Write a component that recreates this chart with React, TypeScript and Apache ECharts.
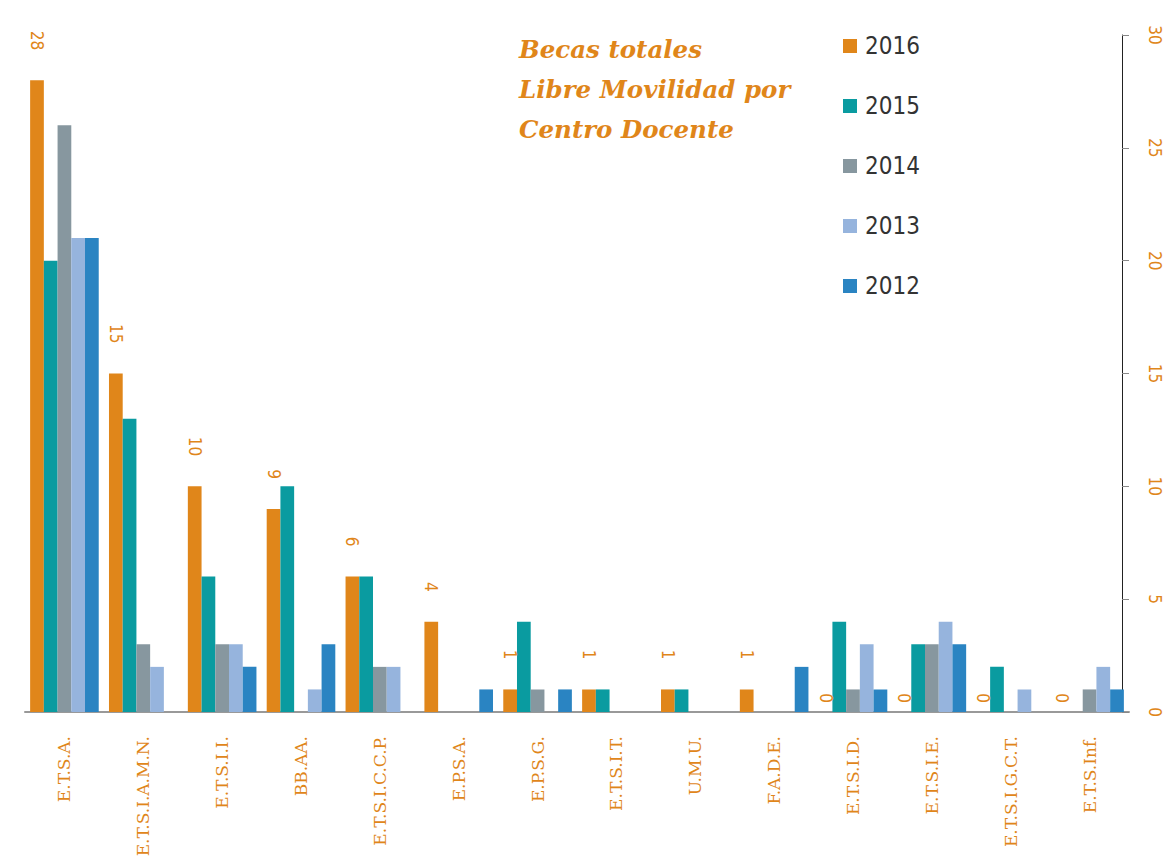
import React, { useEffect, useRef } from "react";
import * as echarts from "echarts";

const categories = [
  "E.T.S.A.",
  "E.T.S.I.A.M.N.",
  "E.T.S.I.I.",
  "BB.AA.",
  "E.T.S.I.C.C.P.",
  "E.P.S.A.",
  "E.P.S.G.",
  "E.T.S.I.T.",
  "U.M.U.",
  "F.A.D.E.",
  "E.T.S.I.D.",
  "E.T.S.I.E.",
  "E.T.S.I.G.C.T.",
  "E.T.S.Inf.",
];

const years = ["2016", "2015", "2014", "2013", "2012"];
const values2016 = [28, 15, 10, 9, 6, 4, 1, 1, 1, 1, 0, 0, 0, 0];
const values2015 = [20, 13, 6, 10, 6, 0, 4, 1, 1, 0, 4, 3, 2, 0];
const values2014 = [26, 3, 3, 0, 2, 0, 1, 0, 0, 0, 1, 3, 0, 1];
const values2013 = [21, 2, 3, 1, 2, 0, 0, 0, 0, 0, 3, 4, 1, 2];
const values2012 = [21, 0, 2, 3, 0, 1, 1, 0, 0, 2, 1, 3, 0, 1];
const yTicks = [0, 5, 10, 15, 20, 25, 30];

const colors = ["#E0861A", "#0A9BA0", "#87979F", "#96B4DD", "#2A84C2"];
const ORANGE = "#E0861A";
const NARROW = "'Liberation Sans Narrow', 'DejaVu Sans Condensed', 'Roboto', sans-serif";

export default function App() {
  const ref = useRef<HTMLDivElement>(null);

  useEffect(() => {
    if (!ref.current) return;
    const chart = echarts.init(ref.current, null, { renderer: "svg" });
    const allValues = [values2016, values2015, values2014, values2013, values2012];
    const yMin = yTicks[0];
    const yMax = yTicks[yTicks.length - 1];

    const series = years.map((y, i) => {
      const base: any = {
        name: y,
        type: "bar",
        xAxisIndex: 0,
        yAxisIndex: 0,
        barGap: "0%",
        barCategoryGap: "13%",
        itemStyle: { color: colors[i] },
        data: allValues[i],
      };
      if (i === 0) {
        base.data = allValues[i].map((v) => ({
          value: v,
          label: { distance: v === 0 ? 9 : 30 },
        }));
        base.label = {
          show: true,
          position: "top",
          rotate: -90,
          align: "right",
          verticalAlign: "middle",
          color: ORANGE,
          fontSize: 17,
          fontFamily: NARROW,
        };
      }
      return base;
    });

    chart.setOption({
      animation: false,
      color: colors,
      title: {
        text: "Becas totales\nLibre Movilidad por\nCentro Docente",
        left: 514,
        top: 24,
        textStyle: {
          color: ORANGE,
          fontFamily: "'DejaVu Serif', serif",
          fontStyle: "italic",
          fontWeight: "bold",
          fontSize: 24.5,
          lineHeight: 40,
        },
      },
      legend: {
        orient: "vertical",
        left: 838,
        top: 29,
        itemWidth: 14,
        itemHeight: 14,
        itemGap: 36,
        icon: "rect",
        data: years,
        textStyle: {
          color: "#333",
          fontSize: 24,
          fontFamily: NARROW,
          padding: [0, 0, 0, 3],
        },
      },
      grid: [
        {
          left: 25,
          right: 39,
          top: 35,
          bottom: 155,
          outerBoundsMode: "none",
          containLabel: false,
        },
        {
          left: 25,
          right: 46,
          top: 35,
          bottom: 155,
          outerBoundsMode: "none",
          containLabel: false,
        },
      ],
      xAxis: [
        {
          type: "category",
          gridIndex: 0,
          data: categories,
          axisLine: { lineStyle: { color: "#999", width: 2 } },
          axisTick: { show: false },
          axisLabel: {
            rotate: 90,
            margin: 24,
            color: ORANGE,
            fontSize: 17,
            fontFamily: "'DejaVu Serif', serif",
            interval: 0,
          },
        },
        {
          type: "category",
          gridIndex: 1,
          data: categories,
          show: false,
        },
      ],
      yAxis: [
        {
          type: "value",
          gridIndex: 0,
          min: yMin,
          max: yMax,
          interval: 5,
          show: false,
          splitLine: { show: false },
        },
        {
          type: "value",
          gridIndex: 1,
          position: "right",
          min: yMin,
          max: yMax,
          interval: 5,
          splitLine: { show: false },
          axisLine: { show: true, lineStyle: { color: "#222", width: 1 } },
          axisTick: { show: true, length: 7, lineStyle: { color: "#888" } },
          axisLabel: {
            rotate: -90,
            margin: 33,
            align: "center",
            verticalAlign: "middle",
            color: ORANGE,
            fontSize: 17,
            fontFamily: NARROW,
          },
        },
      ],
      series,
    });
    return () => chart.dispose();
  }, []);

  return (
    <div
      ref={ref}
      style={{ position: "fixed", left: 0, top: 0, width: 1168, height: 867, background: "#fff" }}
    />
  );
}
